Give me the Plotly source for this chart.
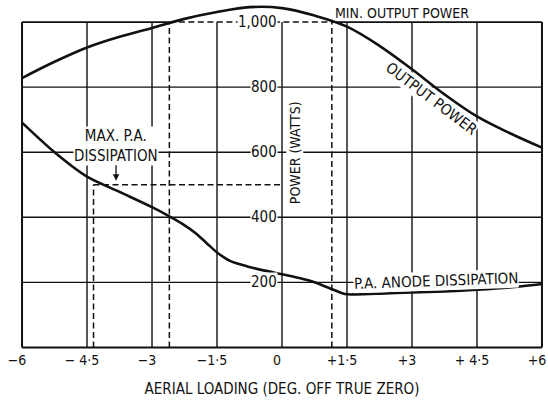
import plotly.graph_objects as go

# ---- data ----
loading = [-6, -5.25, -4.5, -3.75, -3, -2.25, -1.5, -0.75, 0, 0.75, 1.5, 2.25, 3, 3.75, 4.5, 5.25, 6]
output_power = [828, 878, 922, 955, 982, 1010, 1031, 1046, 1043, 1020, 986, 927, 855, 778, 710, 659, 614]

diss_x = [-6, -5.25, -4.5, -3.75, -3, -2.6, -2.3, -2, -1.75, -1.5, -1.2, -0.8, -0.4, 0, 0.4, 0.75, 1.1, 1.45, 1.7, 2.25, 3, 3.75, 4.5, 5.25, 6]
diss_p = [691, 600, 525, 478, 431, 403, 380, 352, 322, 292, 266, 249, 236, 225, 213, 200, 182, 164, 163, 165, 169, 172, 177, 184, 195]

x_ticks = [-6, -4.5, -3, -1.5, 0, 1.5, 3, 4.5, 6]
x_tick_text = ["\u22126", "\u2212 4\u00b75", "\u22123", "\u22121\u00b75", "0", "+1\u00b75", "+3", "+ 4\u00b75", "+6"]
y_ticks = [200, 400, 600, 800, 1000]
y_tick_text = ["200", "400", "600", "800", "1,000"]

min_output = 1000
max_diss = 500
min_out_low, min_out_high = -2.6, 1.15
max_diss_x = -4.35

FONT = "DejaVu Sans Condensed, Liberation Sans Narrow, DejaVu Sans, sans-serif"
INK = "#111111"

fig = go.Figure()
fig.add_trace(go.Scatter(x=loading, y=output_power, mode="lines",
                         line=dict(color=INK, width=2.6, shape="spline", smoothing=1.0),
                         showlegend=False, hoverinfo="skip"))
fig.add_trace(go.Scatter(x=diss_x, y=diss_p, mode="lines",
                         line=dict(color=INK, width=2.6, shape="spline", smoothing=0.8),
                         showlegend=False, hoverinfo="skip"))

shapes = []
def seg(x0, y0, x1, y1, w=1.4, dash=None):
    line = dict(color=INK, width=w)
    if dash:
        line["dash"] = dash
    shapes.append(dict(type="line", xref="x", yref="y", x0=x0, y0=y0, x1=x1, y1=y1,
                       line=line, layer="below"))

# vertical grid lines and frame
for xv in x_ticks:
    w = 2.0 if xv in (x_ticks[0], x_ticks[-1]) else 1.4
    seg(xv, 0, xv, y_ticks[-1], w)
# horizontal grid lines
for yv in y_ticks[:-1]:
    seg(x_ticks[0], yv, x_ticks[-1], yv, 1.4)
seg(x_ticks[0], 0, x_ticks[-1], 0, 2.0)
# top frame, broken by the dashed min-output segment
seg(x_ticks[0], min_output, min_out_low, min_output, 1.6)
seg(min_out_high, min_output, x_ticks[-1], min_output, 1.6)
# dashed construction lines
D = "6px,3.5px"
seg(min_out_low, min_output, min_out_high, min_output, 1.5, D)
seg(min_out_low, 0, min_out_low, min_output, 1.5, D)
seg(min_out_high, 0, min_out_high, min_output, 1.5, D)
seg(max_diss_x, max_diss, 0, max_diss, 1.5, D)
seg(max_diss_x, 0, max_diss_x, max_diss, 1.5, D)

annotations = []
for yv, txt in zip(y_ticks, y_tick_text):
    annotations.append(dict(x=0, y=yv, xref="x", yref="y", text=txt, showarrow=False,
                            xanchor="right", yanchor="middle", xshift=-4,
                            font=dict(family=FONT, size=15, color=INK),
                            bgcolor="white", borderpad=0))

annotations += [
    dict(x=2.77, y=1028, text="MIN. OUTPUT POWER", showarrow=False,
         font=dict(family=FONT, size=14, color=INK)),
    dict(x=3.46, y=765, text="OUTPUT POWER", showarrow=False, textangle=37,
         font=dict(family=FONT, size=15, color=INK), bgcolor="white", borderpad=0),
    dict(x=-3.83, y=512, text="MAX. P.A.<br>DISSIPATION", showarrow=True,
         arrowhead=2, arrowsize=1, arrowwidth=1.3, arrowcolor=INK, ax=0, ay=-35,
         font=dict(family=FONT, size=15, color=INK), bgcolor="white", borderpad=0),
    dict(x=3.55, y=205, text="P.A. ANODE DISSIPATION", showarrow=False, textangle=-2,
         font=dict(family=FONT, size=15, color=INK), bgcolor="white", borderpad=0),
    dict(x=0.3, y=597, text="POWER (WATTS)", showarrow=False, textangle=-90,
         font=dict(family=FONT, size=14, color=INK), bgcolor="white", borderpad=0),
]

fig.update_layout(
    width=548, height=402,
    margin=dict(l=19, r=3, t=0, b=52),
    paper_bgcolor="white", plot_bgcolor="white",
    shapes=shapes, annotations=annotations,
    xaxis=dict(range=[-6.07, 6.07], showgrid=False, zeroline=False, showline=False,
               automargin=False,
               tickmode="array", tickvals=x_ticks, ticktext=x_tick_text,
               ticks="", ticklabeloverflow="allow", ticklabelshift=-5,
               tickfont=dict(family=FONT, size=14, color=INK),
               title=dict(text="AERIAL LOADING (DEG. OFF TRUE ZERO)", standoff=16,
                          font=dict(family=FONT, size=15, color=INK))),
    yaxis=dict(range=[-8, 1068], showgrid=False, zeroline=False, showline=False,
               automargin=False, showticklabels=False, ticks=""),
)

fig.write_html("out.html", config={"displayModeBar": False},
               post_script="document.body.style.margin='0';document.body.style.overflow='hidden';")
